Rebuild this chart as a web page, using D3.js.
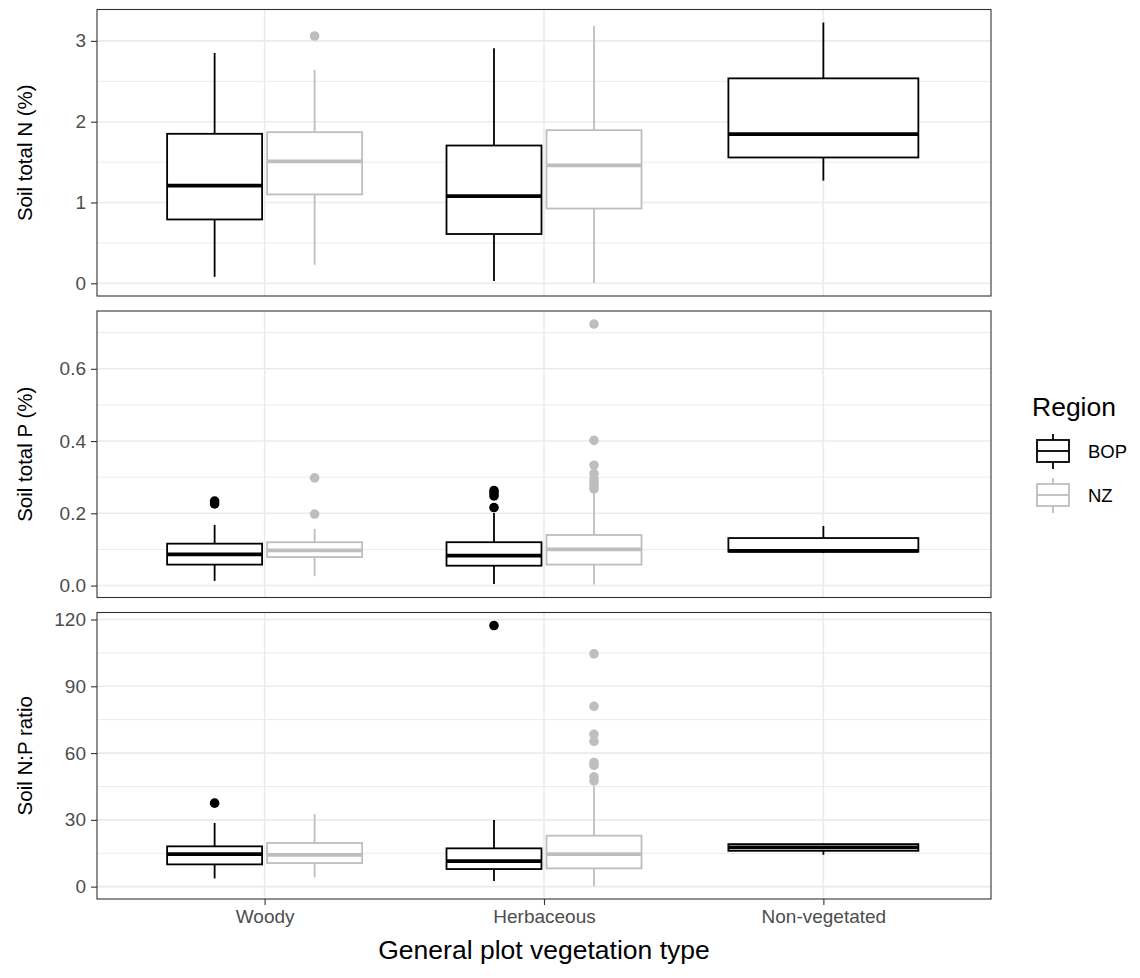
<!DOCTYPE html>
<html>
<head>
<meta charset="utf-8">
<script src="https://cdn.jsdelivr.net/npm/d3@7"></script>
<style>
  body { margin: 0; background: #fff; }
  svg { display: block; font-family: "Liberation Sans", Arial, sans-serif; }
</style>
</head>
<body>
<svg id="chart" width="1140" height="978"></svg>
<script>
// ---------------- data ----------------
const categories = ["Woody", "Herbaceous", "Non-vegetated"];
const regions = ["BOP", "NZ"];
const regionColors = ["#000000", "#bebebe"];

const metricTitles = ["Soil total N (%)", "Soil total P (%)", "Soil N:P ratio"];

// [category, region, lowerWhisker, q1, median, q3, upperWhisker]
const boxesN = [
  ["Woody", "BOP", 0.08, 0.79, 1.21, 1.85, 2.85],
  ["Woody", "NZ", 0.23, 1.10, 1.51, 1.87, 2.64],
  ["Herbaceous", "BOP", 0.03, 0.61, 1.08, 1.705, 2.91],
  ["Herbaceous", "NZ", 0.004, 0.925, 1.46, 1.895, 3.185],
  ["Non-vegetated", "BOP", 1.27, 1.557, 1.846, 2.536, 3.227]
];
const outliersN = [
  ["Woody", "NZ", 3.06]
];

const boxesP = [
  ["Woody", "BOP", 0.013, 0.058, 0.0865, 0.116, 0.168],
  ["Woody", "NZ", 0.026, 0.079, 0.0975, 0.120, 0.157],
  ["Herbaceous", "BOP", 0.004, 0.055, 0.083, 0.120, 0.201],
  ["Herbaceous", "NZ", 0.003, 0.058, 0.100, 0.140, 0.256],
  ["Non-vegetated", "BOP", 0.090, 0.094, 0.096, 0.1315, 0.165]
];
const outliersP = [
  ["Woody", "BOP", 0.226], ["Woody", "BOP", 0.234],
  ["Woody", "NZ", 0.198], ["Woody", "NZ", 0.298],
  ["Herbaceous", "BOP", 0.216], ["Herbaceous", "BOP", 0.248],
  ["Herbaceous", "BOP", 0.256], ["Herbaceous", "BOP", 0.263],
  ["Herbaceous", "NZ", 0.268], ["Herbaceous", "NZ", 0.275],
  ["Herbaceous", "NZ", 0.285], ["Herbaceous", "NZ", 0.295],
  ["Herbaceous", "NZ", 0.310], ["Herbaceous", "NZ", 0.333],
  ["Herbaceous", "NZ", 0.402], ["Herbaceous", "NZ", 0.724]
];

const boxesNP = [
  ["Woody", "BOP", 3.7, 10.0, 14.65, 18.1, 28.6],
  ["Woody", "NZ", 4.2, 10.6, 14.3, 19.6, 32.6],
  ["Herbaceous", "BOP", 2.55, 7.9, 11.5, 17.2, 29.9],
  ["Herbaceous", "NZ", 0.3, 8.2, 14.65, 22.9, 45.1],
  ["Non-vegetated", "BOP", 14.3, 16.1, 17.6, 19.1, 19.3]
];
const outliersNP = [
  ["Woody", "BOP", 37.5],
  ["Herbaceous", "BOP", 117.3],
  ["Herbaceous", "NZ", 47.5], ["Herbaceous", "NZ", 49.3],
  ["Herbaceous", "NZ", 54.5], ["Herbaceous", "NZ", 55.8],
  ["Herbaceous", "NZ", 65.3], ["Herbaceous", "NZ", 68.4],
  ["Herbaceous", "NZ", 81.0], ["Herbaceous", "NZ", 104.6]
];

const ticksN = [0, 1, 2, 3];
const ticksP = [0, 0.2, 0.4, 0.6];
const ticksNP = [0, 30, 60, 90, 120];

const xTitle = "General plot vegetation type";
const legendTitle = "Region";

// ---------------- layout ----------------
const svg = d3.select("#chart");
const plotLeft = 97, plotRight = 991;
const panelTop0 = 9.5, panelH = 286.5, panelGap = 15;
const tickFont = "19px", yTitleFont = "20.5px", bigFont = "26.5px";

const panels = [
  { title: metricTitles[0], boxes: boxesN, outliers: outliersN, ticks: ticksN, fmt: d3.format("d") },
  { title: metricTitles[1], boxes: boxesP, outliers: outliersP, ticks: ticksP, fmt: d3.format(".1f") },
  { title: metricTitles[2], boxes: boxesNP, outliers: outliersNP, ticks: ticksNP, fmt: d3.format("d") }
];

const x = d3.scalePoint().domain(categories).range([plotLeft, plotRight]).padding(0.6);
const step = x.step();
const color = d3.scaleOrdinal().domain(regions).range(regionColors);

const gridMajor = "#ebebeb";
const boxLW = 1.8;

panels.forEach((p, i) => {
  const top = panelTop0 + i * (panelH + panelGap);
  const bottom = top + panelH;
  const vals = [];
  p.boxes.forEach(b => { vals.push(b[2], b[6]); });
  p.outliers.forEach(o => vals.push(o[2]));
  const [mn, mx] = d3.extent(vals);
  const pad = (mx - mn) * 0.05;
  const y = d3.scaleLinear().domain([mn - pad, mx + pad]).range([bottom, top]);

  const g = svg.append("g");

  g.append("rect").attr("x", plotLeft).attr("y", top).attr("width", plotRight - plotLeft).attr("height", panelH).attr("fill", "#fff");

  // minor grid
  const tk = p.ticks;
  const stepT = tk[1] - tk[0];
  const minor = [];
  for (let k = -1; k < tk.length; k++) {
    const v = tk[0] + (k + 0.5) * stepT;
    if (v > y.domain()[0] && v < y.domain()[1]) minor.push(v);
  }
  g.selectAll(".minor").data(minor).enter().append("line")
    .attr("x1", plotLeft).attr("x2", plotRight)
    .attr("y1", d => y(d)).attr("y2", d => y(d))
    .attr("stroke", gridMajor).attr("stroke-width", 1.0);
  // major grid
  g.selectAll(".majorY").data(tk).enter().append("line")
    .attr("x1", plotLeft).attr("x2", plotRight)
    .attr("y1", d => y(d)).attr("y2", d => y(d))
    .attr("stroke", gridMajor).attr("stroke-width", 1.6);
  g.selectAll(".majorX").data(categories).enter().append("line")
    .attr("x1", d => x(d)).attr("x2", d => x(d))
    .attr("y1", top).attr("y2", bottom)
    .attr("stroke", gridMajor).attr("stroke-width", 1.6);

  // dodge positions
  function pos(cat, reg) {
    const regs = regions.filter(r => p.boxes.some(b => b[0] === cat && b[1] === r));
    const n = regs.length;
    const total = 0.716 * step;
    const w = n === 1 ? 0.68 * step : 0.34 * step;
    const idx = regs.indexOf(reg);
    const cx = n === 1 ? x(cat) : x(cat) - total / 2 + total / (2 * n) + idx * total / n;
    return { cx, w };
  }

  // boxes
  p.boxes.forEach(b => {
    const [cat, reg, lo, q1, med, q3, hi] = b;
    const { cx, w } = pos(cat, reg);
    const c = color(reg);
    const bg = g.append("g");
    bg.append("line").attr("x1", cx).attr("x2", cx).attr("y1", y(q3)).attr("y2", y(hi))
      .attr("stroke", c).attr("stroke-width", boxLW);
    bg.append("line").attr("x1", cx).attr("x2", cx).attr("y1", y(q1)).attr("y2", y(lo))
      .attr("stroke", c).attr("stroke-width", boxLW);
    bg.append("rect").attr("x", cx - w / 2).attr("width", w)
      .attr("y", y(q3)).attr("height", y(q1) - y(q3))
      .attr("fill", "#fff").attr("stroke", c).attr("stroke-width", boxLW);
    bg.append("line").attr("x1", cx - w / 2).attr("x2", cx + w / 2)
      .attr("y1", y(med)).attr("y2", y(med))
      .attr("stroke", c).attr("stroke-width", boxLW * 2.1);
  });

  // outliers
  g.selectAll(".out").data(p.outliers).enter().append("circle")
    .attr("cx", d => pos(d[0], d[1]).cx)
    .attr("cy", d => y(d[2]))
    .attr("r", 4.8)
    .attr("fill", d => color(d[1]));

  // panel border
  g.append("rect").attr("x", plotLeft).attr("y", top).attr("width", plotRight - plotLeft).attr("height", panelH)
    .attr("fill", "none").attr("stroke", "#333333").attr("stroke-width", 1.1);

  // y axis
  const ax = g.append("g").attr("transform", `translate(${plotLeft},0)`)
    .call(d3.axisLeft(y).tickValues(tk).tickFormat(p.fmt).tickSize(6).tickPadding(5));
  ax.select(".domain").remove();
  ax.selectAll(".tick line").attr("stroke", "#333333").attr("stroke-width", 1.1);
  ax.selectAll(".tick text").attr("fill", "#4d4d4d").style("font-size", tickFont)
    .style("font-family", "'Liberation Sans', Arial, sans-serif");

  // y title
  svg.append("text")
    .attr("transform", `translate(24,${(top + bottom) / 2}) rotate(-90)`)
    .attr("text-anchor", "middle").attr("dominant-baseline", "central")
    .style("font-size", yTitleFont).attr("fill", "#000").text(p.title);

  // x axis on last panel
  if (i === panels.length - 1) {
    const xa = svg.append("g").attr("transform", `translate(0,${bottom})`)
      .call(d3.axisBottom(x).tickSize(6).tickPadding(5));
    xa.select(".domain").remove();
    xa.selectAll(".tick line").attr("stroke", "#333333").attr("stroke-width", 1.1);
    xa.selectAll(".tick text").attr("fill", "#4d4d4d").style("font-size", tickFont)
      .style("font-family", "'Liberation Sans', Arial, sans-serif");
    svg.append("text").attr("x", (plotLeft + plotRight) / 2).attr("y", bottom + 60)
      .attr("text-anchor", "middle").style("font-size", bigFont).attr("fill", "#000").text(xTitle);
  }
});

// ---------------- legend ----------------
const lg = svg.append("g");
lg.append("text").attr("x", 1032).attr("y", 416).style("font-size", bigFont).attr("fill", "#000").text(legendTitle);
regions.forEach((r, k) => {
  const cy = 451 + k * 44;
  const c = color(r);
  const kx = 1053;
  lg.append("line").attr("x1", kx).attr("x2", kx).attr("y1", cy - 17).attr("y2", cy + 18)
    .attr("stroke", c).attr("stroke-width", boxLW);
  lg.append("rect").attr("x", kx - 16).attr("y", cy - 11).attr("width", 32).attr("height", 22)
    .attr("fill", "#fff").attr("stroke", c).attr("stroke-width", boxLW);
  lg.append("line").attr("x1", kx - 16).attr("x2", kx + 16).attr("y1", cy).attr("y2", cy)
    .attr("stroke", c).attr("stroke-width", boxLW);
  lg.append("text").attr("x", 1088).attr("y", cy).attr("dominant-baseline", "central")
    .style("font-size", "18.5px").attr("fill", "#000").text(r);
});
</script>
</body>
</html>
